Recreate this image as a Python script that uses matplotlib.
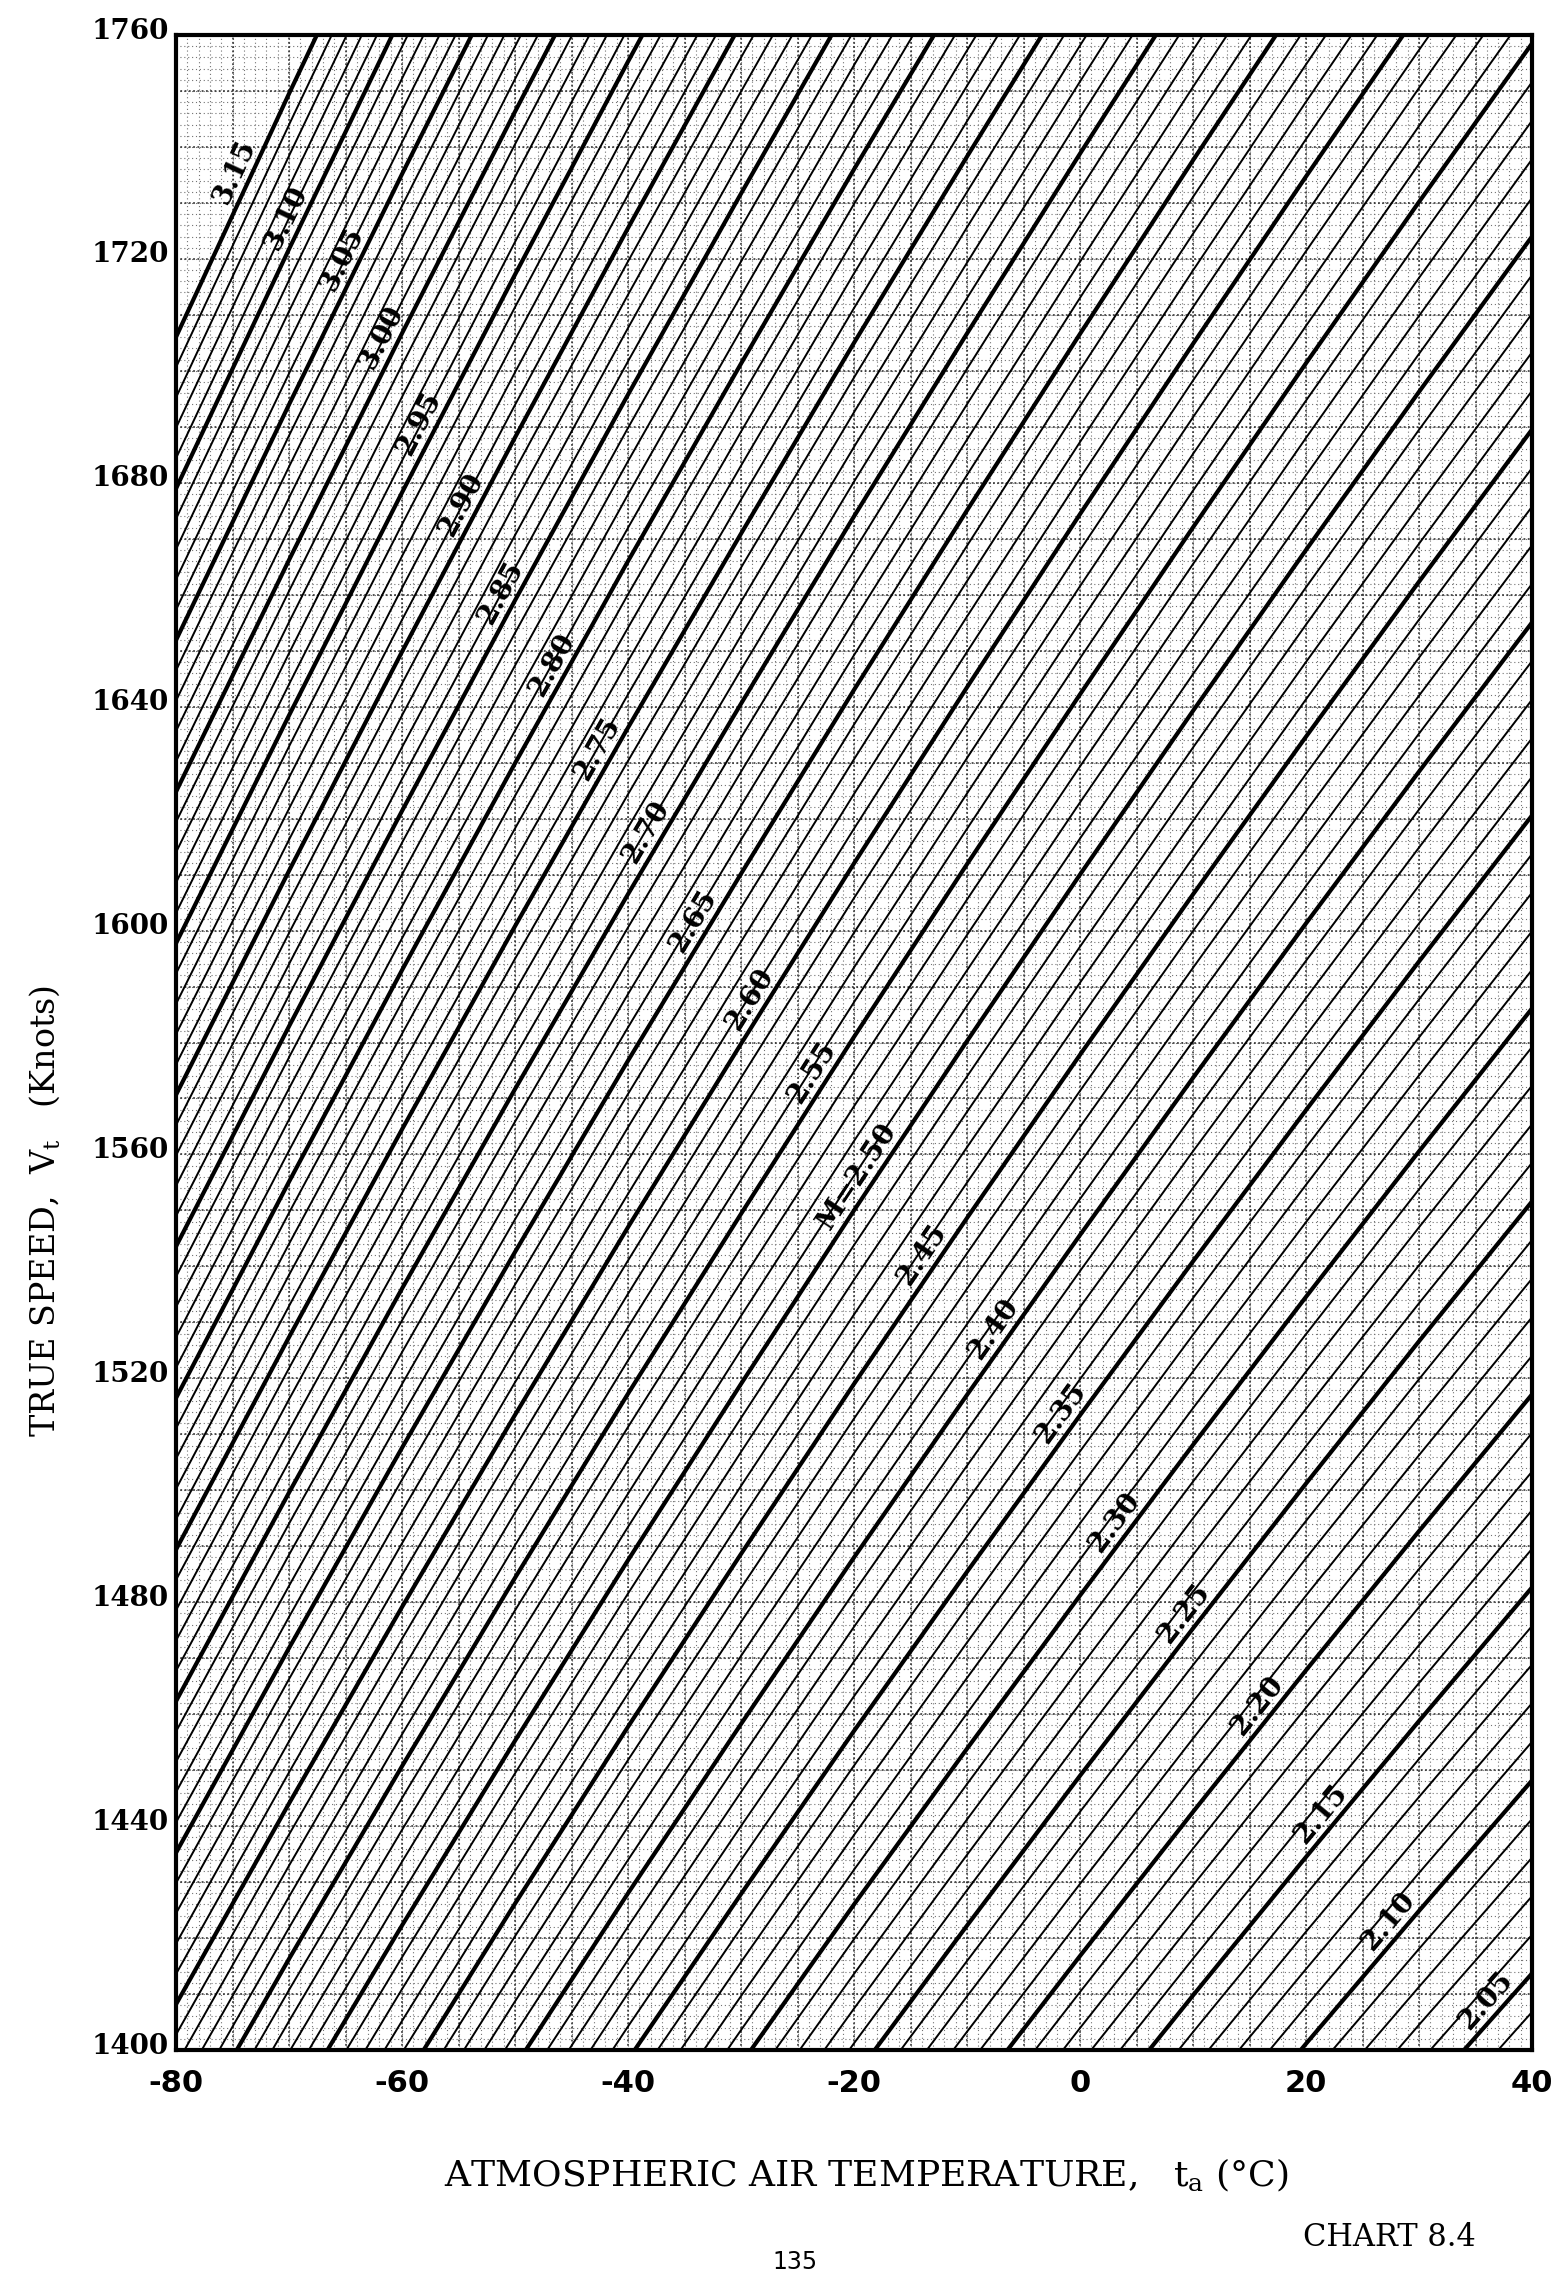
import numpy as np
import matplotlib.pyplot as plt
from matplotlib.transforms import ScaledTranslation

# speed of sound (knots) at each air temperature (deg C)
temps_c = [-80, -70, -60, -50, -40, -30, -20, -10, 0, 10, 20, 30, 40]
sound_speed_kt = [541.6, 555.4, 568.9, 582.1, 595.0, 607.6, 620.0,
                  632.1, 644.0, 655.7, 667.2, 678.5, 689.6]

# constant Mach lines: thin every 0.01, heavy every 0.05
mach_lines = np.round(np.arange(2.00, 3.155, 0.01), 2)
mach_heavy = [2.05, 2.10, 2.15, 2.20, 2.25, 2.30, 2.35, 2.40, 2.45, 2.50, 2.55, 2.60,
              2.65, 2.70, 2.75, 2.80, 2.85, 2.90, 2.95, 3.00, 3.05, 3.10, 3.15]
label_text = ['2.05', '2.10', '2.15', '2.20', '2.25', '2.30', '2.35', '2.40', '2.45',
              'M=2.50', '2.55', '2.60', '2.65', '2.70', '2.75', '2.80', '2.85', '2.90',
              '2.95', '3.00', '3.05', '3.10', '3.15']
# temperature along each heavy line where its label sits
label_temp = [37.0, 28.4, 22.4, 16.8, 10.3, 4.2, -0.5, -6.5, -12.8,
              -18.5, -22.5, -28.0, -33.0, -37.2, -41.5, -45.5, -50.0, -53.5,
              -57.2, -60.5, -64.0, -69.0, -73.5]

x_ticks = [-80, -60, -40, -20, 0, 20, 40]
y_ticks = [1400, 1440, 1480, 1520, 1560, 1600, 1640, 1680, 1720, 1760]

W, H = 1554, 2282
fig = plt.figure(figsize=(W / 100, H / 100), dpi=100)
ax = fig.add_axes([176 / W, 1 - 2050 / H, (1532 - 176) / W, (2050 - 35) / H])
ax.set_xlim(-80, 40)
ax.set_ylim(1400, 1760)

# graph paper
ax.vlines(np.arange(-80, 41, 1), 1400, 1760, colors='0.45', lw=0.8,
          linestyles=(0, (1, 2.5)), zorder=1)
ax.hlines(np.arange(1400, 1761, 2), -80, 40, colors='0.45', lw=0.8,
          linestyles=(0, (1, 2.5)), zorder=1)
ax.vlines(np.arange(-80, 41, 5), 1400, 1760, colors='0.15', lw=1.1,
          linestyles=(0, (1.2, 1.6)), zorder=1)
ax.hlines(np.arange(1400, 1761, 10), -80, 40, colors='0.15', lw=1.1,
          linestyles=(0, (1.2, 1.6)), zorder=1)

sound = np.array(sound_speed_kt)
for m in mach_lines:
    heavy = np.any(np.isclose(m, mach_heavy))
    ax.plot(temps_c, m * sound, color='black',
            lw=3.0 if heavy else 1.4, zorder=3 if heavy else 2,
            solid_capstyle='butt')

for m, txt, t in zip(mach_heavy, label_text, label_temp):
    y = m * np.interp(t, temps_c, sound)
    y2 = m * np.interp(t + 1, temps_c, sound)
    p1 = ax.transData.transform((t, y))
    p2 = ax.transData.transform((t + 1, y2))
    ang = np.arctan2(p2[1] - p1[1], p2[0] - p1[0])
    shift = ScaledTranslation(-np.sin(ang) * 2 / 72, np.cos(ang) * 2 / 72,
                              fig.dpi_scale_trans)
    ax.text(t, y, txt, rotation=np.degrees(ang), rotation_mode='anchor',
            ha='center', va='bottom', fontsize=20, fontweight='bold',
            family='DejaVu Serif', zorder=4, transform=ax.transData + shift)

for s in ax.spines.values():
    s.set_linewidth(3)
ax.set_xticks(x_ticks)
ax.set_xticklabels([str(v) for v in x_ticks], fontsize=22, fontweight='bold',
                   family='DejaVu Sans')
ax.set_yticks(y_ticks)
ax.set_yticklabels([str(v) for v in y_ticks], fontsize=20, fontweight='bold',
                   family='DejaVu Serif')
ax.tick_params(axis='x', length=0, pad=14)
ax.tick_params(axis='y', length=0, pad=5)
for lab in ax.get_yticklabels():
    lab.set_transform(lab.get_transform() + ScaledTranslation(0, 5 / 72, fig.dpi_scale_trans))

fig.text(45 / W, 1 - 1211 / H, r'TRUE SPEED,  $\mathregular{V_t}$   (Knots)',
         rotation=90, ha='center', va='center', fontsize=24, family='DejaVu Serif')
fig.text(866 / W, 1 - 2175 / H, r'ATMOSPHERIC AIR TEMPERATURE,   $\mathregular{t_a}$ (°C)',
         ha='center', va='center', fontsize=26, family='DejaVu Serif')
fig.text(1389 / W, 1 - 2238 / H, 'CHART 8.4', ha='center', va='center',
         fontsize=22, family='DejaVu Serif')
fig.text(795 / W, 1 - 2262 / H, '135', ha='center', va='center',
         fontsize=17, family='DejaVu Sans')

fig.savefig('out.png', dpi=100, facecolor='white')
